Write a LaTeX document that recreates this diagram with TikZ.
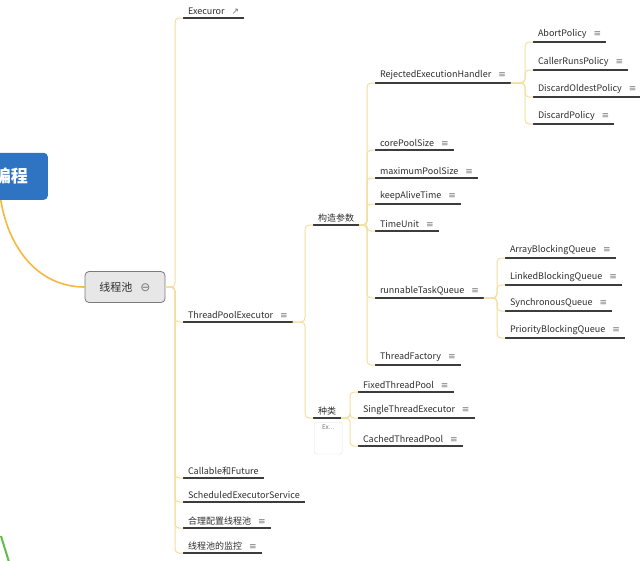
\documentclass[tikz,border=0pt]{standalone}
\usepackage{fontspec}
\setmainfont{Noto Sans CJK SC}
\newfontfamily\symfont{DejaVu Sans}
\definecolor{txtgray}{HTML}{2E2E2E}
\definecolor{linegray}{HTML}{3C3C3C}
\definecolor{icongray}{HTML}{777777}
\definecolor{branchyellow}{HTML}{F2DE9E}
\definecolor{rootyellow}{HTML}{F5B93F}
\definecolor{rootblue}{HTML}{2E74C2}
\definecolor{poolfill}{HTML}{E7E7E8}
\definecolor{poolborder}{HTML}{7A7A7A}
\definecolor{leafgreen}{HTML}{62BC4A}
\newcommand\notemark{\hspace{7pt}{\color{icongray}\symfont\small ≡}}

\tikzset{
  topic/.style={anchor=south west, outer sep=0pt, inner xsep=5pt, inner ysep=3pt,
    font=\fontsize{9}{11}\selectfont, text=txtgray,
    append after command={(\tikzlastnode.south west) edge[uline] (\tikzlastnode.south east)}},
  uline/.style={draw=linegray, line width=1.2pt},
  branch/.style={draw=branchyellow, line width=1pt, rounded corners=4pt},
  rootnode/.style={fill=rootblue, rounded corners=4pt, text=white, inner xsep=20pt,
    minimum height=47pt, font=\fontsize{17}{20}\selectfont\bfseries},
  poolnode/.style={fill=poolfill, draw=poolborder, line width=0.8pt, rounded corners=4pt,
    minimum width=80pt, minimum height=31pt, text=txtgray, font=\fontsize{11}{13}\selectfont},
  rootlink/.style={draw=rootyellow, line width=1.6pt},
  notebox/.style={anchor=north west, draw=black!12, rounded corners=2pt, inner sep=3pt,
    text=icongray, minimum width=28pt, text depth=21pt, font=\fontsize{6.5}{8}\selectfont},
}

\begin{document}
\begin{tikzpicture}[x=1pt,y=-1pt]
\useasboundingbox (0,0) rectangle (640,560);
% root and pool
\node[rootnode, anchor=south east] (root) at (48,200) {编程};
\node[poolnode] (pool) at (125,287) {线程池\hspace{8pt}{\symfont\large\color{icongray}⊖}};
\draw[rootlink] ([xshift=-10pt]root.south) .. controls +(8,50) and +(-45,0) .. (pool.west);
\draw[draw=leafgreen, line width=2pt] (1,536) .. controls (4,546) and (6,552) .. (9,562);

% level 1
\node[topic] (executor) at (183,18) {Execuror\hspace{7pt}{\color{icongray}\symfont\small ↗}};
\node[topic] (tpe) at (183,322) {ThreadPoolExecutor\notemark};
\node[topic] (callable) at (183,478) {Callable和Future};
\node[topic] (sched) at (183,502) {ScheduledExecutorService};
\node[topic] (config) at (183,528) {合理配置线程池\notemark};
\node[topic] (monitor) at (183,553) {线程池的监控\notemark};

% level 2
\node[topic] (params) at (313,225) {构造参数};
\node[topic] (kinds) at (313,418) {种类};
\node[notebox] (exnote) at (314,422) {Ex...};

% params
\node[topic] (reject) at (375,83) {RejectedExecutionHandler\notemark};
\node[topic] (core) at (375,150) {corePoolSize\notemark};
\node[topic] (maxsize) at (375,178) {maximumPoolSize\notemark};
\node[topic] (alive) at (375,204) {keepAliveTime\notemark};
\node[topic] (unit) at (375,231) {TimeUnit\notemark};
\node[topic] (queue) at (375,298) {runnableTaskQueue\notemark};
\node[topic] (factory) at (375,365) {ThreadFactory\notemark};

% policies
\node[topic] (abort) at (533,42) {AbortPolicy\notemark};
\node[topic] (callerruns) at (533,70) {CallerRunsPolicy\notemark};
\node[topic] (oldest) at (533,97) {DiscardOldestPolicy\notemark};
\node[topic] (discard) at (533,124) {DiscardPolicy\notemark};

% queues
\node[topic] (arrayq) at (505,258) {ArrayBlockingQueue\notemark};
\node[topic] (linkedq) at (505,285) {LinkedBlockingQueue\notemark};
\node[topic] (syncq) at (505,311) {SynchronousQueue\notemark};
\node[topic] (prioq) at (505,338) {PriorityBlockingQueue\notemark};

% kinds
\node[topic] (fixed) at (358,392) {FixedThreadPool\notemark};
\node[topic] (single) at (358,418) {SingleThreadExecutor\notemark};
\node[topic] (cached) at (358,446) {CachedThreadPool\notemark};

% branches
\foreach \c in {executor,tpe,callable,sched,config,monitor}
  \draw[branch] (pool.east) -| ([xshift=-8pt]\c.south west) -- (\c.south west);
\foreach \c in {params,kinds}
  \draw[branch] (tpe.south east) -| ([xshift=-8pt]\c.south west) -- (\c.south west);
\foreach \c in {reject,core,maxsize,alive,unit,queue,factory}
  \draw[branch] (params.south east) -| ([xshift=-8pt]\c.south west) -- (\c.south west);
\foreach \c in {abort,callerruns,oldest,discard}
  \draw[branch] (reject.south east) -| ([xshift=-8pt]\c.south west) -- (\c.south west);
\foreach \c in {arrayq,linkedq,syncq,prioq}
  \draw[branch] (queue.south east) -| ([xshift=-8pt]\c.south west) -- (\c.south west);
\foreach \c in {fixed,single,cached}
  \draw[branch] (kinds.south east) -| ([xshift=-8pt]\c.south west) -- (\c.south west);
\end{tikzpicture}
\end{document}
